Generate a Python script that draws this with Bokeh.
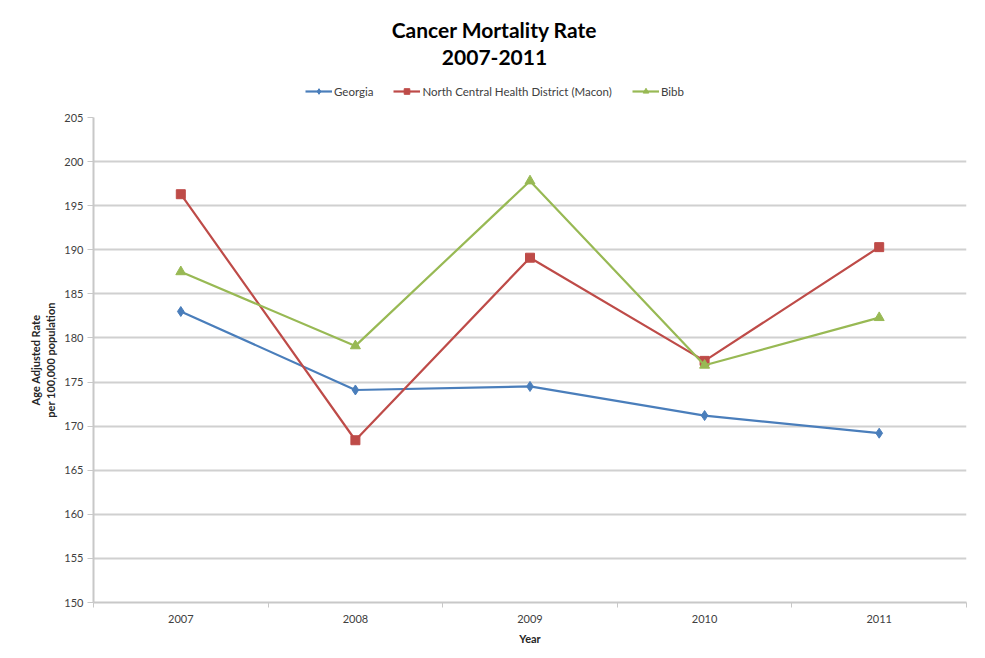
from bokeh.plotting import figure
from bokeh.layouts import column
from bokeh.models import (FixedTicker, Legend, LegendItem, Label, Range1d)
from bokeh.embed import file_html
from bokeh.resources import INLINE

years = [2007, 2008, 2009, 2010, 2011]
georgia = [183.0, 174.1, 174.5, 171.2, 169.2]
nchd = [196.3, 168.4, 189.1, 177.4, 190.3]
bibb = [187.5, 179.1, 197.8, 176.9, 182.3]
y_ticks = [150, 155, 160, 165, 170, 175, 180, 185, 190, 195, 200, 205]
series_names = ["Georgia", "North Central Health District (Macon)", "Bibb"]
title_lines = ["Cancer Mortality Rate", "2007-2011"]

FONT = "Lato"
c_ga, c_nc, c_bb = "#4a7ebb", "#be4b48", "#98b954"
FW = 873

# ---------- main chart ----------
p = figure(frame_width=FW, frame_height=485, output_backend="svg", toolbar_location=None,
           x_range=Range1d(2006.5, 2011.5), y_range=Range1d(150, 205),
           min_border_left=93, min_border_right=3, min_border_bottom=45,
           min_border_top=9)
p.title = None
p.outline_line_color = None
p.border_fill_color = "white"

p.line(years, georgia, line_color=c_ga, line_width=2.2)
p.scatter(years, georgia, marker="diamond", size=10, fill_color=c_ga, line_color=c_ga)
p.line(years, nchd, line_color=c_nc, line_width=2.2)
p.scatter(years, nchd, marker="square", size=9, fill_color=c_nc, line_color=c_nc)
p.line(years, bibb, line_color=c_bb, line_width=2.2)
p.scatter(years, bibb, marker="triangle", size=10, fill_color=c_bb, line_color=c_bb)

p.xaxis.ticker = FixedTicker(ticks=years, minor_ticks=[2006.5, 2007.5, 2008.5, 2009.5, 2010.5, 2011.5])
p.xaxis.major_tick_line_color = None
p.xaxis.minor_tick_line_color = "#c8c8c8"
p.xaxis.minor_tick_out = 5
p.xaxis.minor_tick_in = 0
p.xaxis.axis_line_color = "#c8c8c8"
p.xaxis.axis_line_width = 2
p.xaxis.major_label_text_font = FONT
p.xaxis.major_label_text_font_size = "11px"
p.xaxis.major_label_text_color = "#404040"
p.xaxis.major_label_standoff = 6
p.xaxis.axis_label = "Year"
p.xaxis.axis_label_text_font = FONT
p.xaxis.axis_label_text_font_size = "11px"
p.xaxis.axis_label_text_font_style = "bold"
p.xaxis.axis_label_text_color = "#262626"
p.xaxis.axis_label_standoff = 6

p.yaxis.ticker = FixedTicker(ticks=y_ticks, minor_ticks=[])
p.yaxis.major_tick_line_color = "#c8c8c8"
p.yaxis.major_tick_out = 6
p.yaxis.major_tick_in = 0
p.yaxis.axis_line_color = "#c8c8c8"
p.yaxis.axis_line_width = 2
p.yaxis.major_label_text_font = FONT
p.yaxis.major_label_text_font_size = "11px"
p.yaxis.major_label_text_color = "#404040"
p.yaxis.major_label_standoff = 4
p.yaxis.axis_label = "Age Adjusted Rate\nper 100,000 population"
p.yaxis.axis_label_text_font = FONT
p.yaxis.axis_label_text_font_size = "11px"
p.yaxis.axis_label_text_font_style = "bold"
p.yaxis.axis_label_text_color = "#262626"
p.yaxis.axis_label_standoff = 4

p.xgrid.grid_line_color = None
p.ygrid.grid_line_color = "#d0d0d0"
p.ygrid.grid_line_width = 2

# ---------- header (titles + legend) ----------
HH = 108
h = figure(frame_width=FW, frame_height=HH, output_backend="svg", toolbar_location=None,
           x_range=Range1d(0, 1), y_range=Range1d(0, 1),
           x_axis_type=None, y_axis_type=None,
           min_border_left=93, min_border_right=3,
           min_border_top=0, min_border_bottom=0)
h.title = None
h.outline_line_color = None
h.xgrid.visible = False
h.ygrid.visible = False

# legend proxies: same series data, which lies outside the header's 0..1 ranges
hr = []
for col, mk, sz, ys in [(c_ga, "diamond", 8, georgia), (c_nc, "square", 8, nchd),
                        (c_bb, "triangle", 8, bibb)]:
    ln = h.line(years, ys, line_color=col, line_width=2.2)
    sc = h.scatter(years, ys, marker=mk, size=sz, fill_color=col, line_color=col)
    hr.append([ln, sc])

legend = Legend(items=[LegendItem(label=n, renderers=r) for n, r in zip(series_names, hr)],
                orientation="horizontal", location=(212, 10),
                label_text_font=FONT, label_text_font_size="11.5px", label_text_color="#404040",
                border_line_color=None, background_fill_alpha=0, spacing=20,
                glyph_width=27, glyph_height=14, label_standoff=2, padding=2, margin=0)
h.add_layout(legend, "center")

for txt, yy in zip(title_lines, [79, 51]):
    h.add_layout(Label(x=401, y=yy, x_units="screen", y_units="screen", text=txt,
                       text_align="center", text_baseline="middle", text_font=FONT,
                       text_font_size="21px", text_font_style="bold", text_color="#000000"))

layout = column(h, p, spacing=0)
open("out.html", "w").write(file_html(layout, INLINE))
